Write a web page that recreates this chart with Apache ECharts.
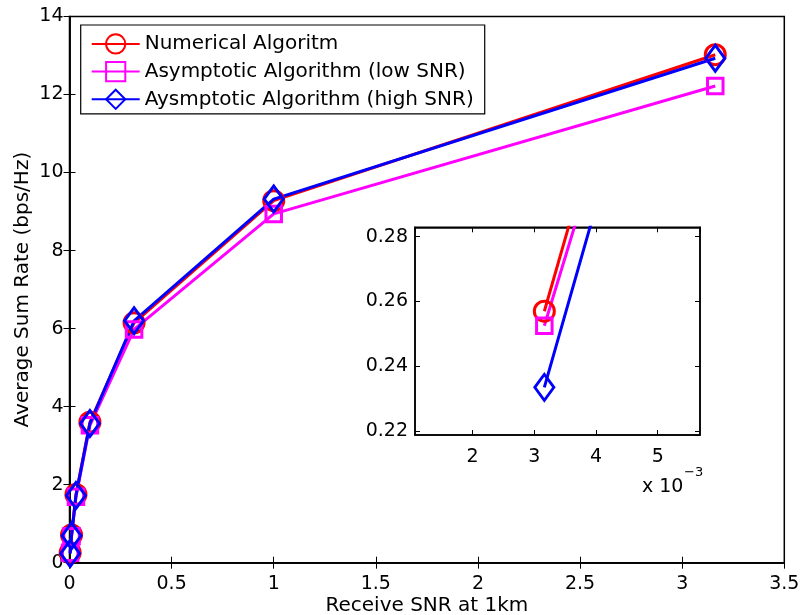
<!DOCTYPE html>
<html>
<head>
<meta charset="utf-8">
<script src="https://cdn.jsdelivr.net/npm/echarts@6/dist/echarts.min.js"></script>
<style>
  html, body { margin: 0; padding: 0; background: #fff; }
  #chart { width: 802px; height: 615px; }
</style>
</head>
<body>
<div id="chart"></div>
<script>
// Receive SNR at 1 km (linear), one point per 5 dB from -25 dB to 5 dB
const snr = [0.003162, 0.01, 0.03162, 0.1, 0.3162, 1, 3.162];

// Average sum rate (bps/Hz) per algorithm
const numerical = [0.257, 0.71, 1.75, 3.60, 6.15, 9.28, 13.02];
const lowSnr    = [0.2525, 0.68, 1.69, 3.52, 5.98, 8.94, 12.22];
const highSnr   = [0.2335, 0.69, 1.72, 3.57, 6.20, 9.32, 12.93];

const seriesNames = [
  'Numerical Algoritm',
  'Asymptotic Algorithm (low SNR)',
  'Aysmptotic Algorithm (high SNR)'
];
const seriesColors = ['#ff0000', '#ff00ff', '#0000ff'];

const FONT = 'DejaVu Sans';

function pairs(ys) {
  return snr.map((x, i) => [x, ys[i]]);
}

const curves = [
  { name: seriesNames[0], data: numerical, color: seriesColors[0], symbol: 'circle', size: 20 },
  { name: seriesNames[1], data: lowSnr, color: seriesColors[1], symbol: 'rect', size: 15.5 },
  { name: seriesNames[2], data: highSnr, color: seriesColors[2], symbol: 'diamond', size: [19, 26] }
];

function makeSeries(c, xi, yi) {
  return {
    type: 'line',
    name: c.name,
    xAxisIndex: xi,
    yAxisIndex: yi,
    data: pairs(c.data),
    symbol: c.symbol,
    symbolSize: c.size,
    showAllSymbol: true,
    clip: true,
    animation: false,
    lineStyle: { color: c.color, width: 3 },
    itemStyle: { color: 'transparent', borderColor: c.color, borderWidth: 3 },
    emphasis: { disabled: true }
  };
}

const tickLabel = { color: '#000', fontFamily: FONT, fontSize: 19 };
const axisLine = { show: true, lineStyle: { color: '#000', width: 1.5 } };

function boxAxis(base, pos) {
  return Object.assign({}, base, {
    position: pos,
    axisLabel: { show: false },
    name: ''
  });
}

// main plot axes
const mainX = {
  type: 'value', gridIndex: 0, min: 0, max: 3.5, interval: 0.5,
  axisLine: axisLine,
  axisTick: { show: true, inside: true, length: 6, lineStyle: { color: '#000', width: 1 } },
  axisLabel: Object.assign({ margin: 12 }, tickLabel),
  splitLine: { show: false },
  name: 'Receive SNR at 1km', nameLocation: 'middle', nameGap: 33, nameMoveOverlap: false,
  nameTextStyle: { color: '#000', fontFamily: FONT, fontSize: 20 }
};
const mainY = {
  type: 'value', gridIndex: 0, min: 0, max: 14, interval: 2,
  axisLine: axisLine,
  axisTick: { show: true, inside: true, length: 6, lineStyle: { color: '#000', width: 1 } },
  axisLabel: Object.assign({ margin: 6 }, tickLabel),
  splitLine: { show: false },
  name: 'Average Sum Rate (bps/Hz)', nameLocation: 'middle', nameGap: 37, nameMoveOverlap: false,
  nameTextStyle: { color: '#000', fontFamily: FONT, fontSize: 20 }
};

// inset (zoom on the lowest SNR point)
const insetX = {
  type: 'value', gridIndex: 1, min: 0.001065, max: 0.005686, splitNumber: 5,
  axisLine: axisLine,
  axisTick: { show: true, inside: true, length: 5, lineStyle: { color: '#000', width: 1 } },
  axisLabel: Object.assign({
    margin: 13, showMinLabel: false, showMaxLabel: false,
    formatter: v => String(Math.round(v * 1000))
  }, tickLabel),
  splitLine: { show: false }
};
const insetY = {
  type: 'value', gridIndex: 1, min: 0.2188, max: 0.2829, splitNumber: 3,
  axisLine: axisLine,
  axisTick: { show: true, inside: true, length: 5, lineStyle: { color: '#000', width: 1 } },
  axisLabel: Object.assign({
    margin: 7, showMinLabel: false, showMaxLabel: false,
    formatter: v => v.toFixed(2)
  }, tickLabel),
  splitLine: { show: false }
};

const series = [];
curves.forEach(c => series.push(makeSeries(c, 0, 0)));
curves.forEach(c => series.push(makeSeries(c, 2, 2)));

const option = {
  backgroundColor: '#fff',
  animation: false,
  grid: [
    { left: 69.5, top: 16.5, width: 714.8, height: 546.2, outerBoundsMode: 'none', containLabel: false,
      show: true, borderColor: '#000', borderWidth: 1.5, backgroundColor: '#fff' },
    { left: 415, top: 227.3, width: 285, height: 207.7, outerBoundsMode: 'none', containLabel: false,
      show: true, borderColor: '#000', borderWidth: 1.5, backgroundColor: '#fff', z: 5 }
  ],
  xAxis: [
    mainX,
    boxAxis(mainX, 'top'),
    Object.assign({ z: 6 }, insetX),
    Object.assign({ z: 6 }, boxAxis(insetX, 'top'))
  ],
  yAxis: [
    mainY,
    boxAxis(mainY, 'right'),
    Object.assign({ z: 6 }, insetY),
    Object.assign({ z: 6 }, boxAxis(insetY, 'right'))
  ],
  legend: {
    data: seriesNames,
    orient: 'vertical',
    left: 80.7,
    top: 25,
    padding: [8.3, 11, 4, 10],
    itemWidth: 48,
    itemHeight: 24,
    itemGap: 6.5,
    backgroundColor: '#fff',
    borderColor: '#000',
    borderWidth: 1.2,
    borderRadius: 0,
    selectedMode: false,
    textStyle: { color: '#000', fontFamily: FONT, fontSize: 20 }
  },
  graphic: [
    {
      type: 'text', z: 100,
      style: { x: 642, y: 487, text: 'x 10', fill: '#000', font: '19px "DejaVu Sans"', align: 'left', verticalAlign: 'middle' }
    },
    {
      type: 'text', z: 100,
      style: { x: 684, y: 473, text: '\u22123', fill: '#000', font: '13px "DejaVu Sans"', align: 'left', verticalAlign: 'middle' }
    }
  ],
  series: series
};

// inset series drawn above the inset grid background
for (let i = 3; i < 6; i++) series[i].z = 7;

const chart = echarts.init(document.getElementById('chart'), null, { renderer: 'canvas' });
chart.setOption(option);
</script>
</body>
</html>
